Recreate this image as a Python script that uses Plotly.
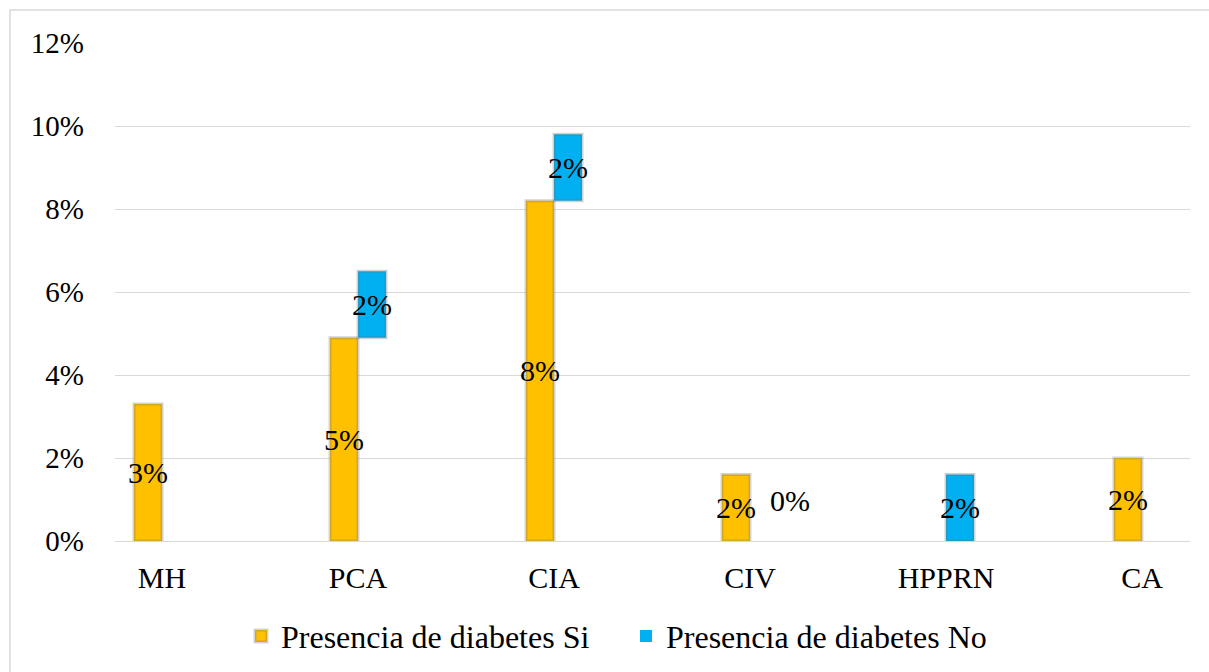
import plotly.graph_objects as go

categorias = ["MH", "PCA", "CIA", "CIV", "HPPRN", "CA"]
diabetes_si = [0.033, 0.049, 0.082, 0.016, 0.0, 0.020]
diabetes_no = [0.0, 0.016, 0.016, 0.0, 0.016, 0.0]
ticks_y = [0, 0.02, 0.04, 0.06, 0.08, 0.10, 0.12]

AMARILLO = "#FFC000"
AZUL = "#00B0F0"
SOMBRA = "rgba(110,110,110,0.30)"
FUENTE = "Liberation Serif, Times New Roman, serif"

W, H = 1209, 672
ML, MR, MT, MB = 115, 19, 43, 131

# the "No" segments float on top of the "Si" segments
base_no = list(diabetes_si)
texto_si = [f"{v:.0%}" if v > 0 else "" for v in diabetes_si]
texto_no = [f"{v:.0%}" if v > 0 else "" for v in diabetes_no]
borde_si = [3 if v > 0 else 0 for v in diabetes_si]
borde_no = [3 if v > 0 else 0 for v in diabetes_no]

fig = go.Figure()
fig.add_trace(go.Bar(
    name="Presencia de diabetes Si", x=categorias, y=diabetes_si,
    marker=dict(color=AMARILLO, line=dict(color=SOMBRA, width=borde_si)),
    text=texto_si, textposition="inside", insidetextanchor="middle",
    textfont=dict(family=FUENTE, size=30, color="black"),
    textangle=0, cliponaxis=False,
))
fig.add_trace(go.Bar(
    name="Presencia de diabetes No", x=categorias, y=diabetes_no, base=base_no,
    marker=dict(color=AZUL, line=dict(color=SOMBRA, width=borde_no)),
    text=texto_no, textposition="inside", insidetextanchor="middle",
    textfont=dict(family=FUENTE, size=30, color="black"),
    textangle=0, cliponaxis=False,
))

# zero-height "No" segment gets its label beside the neighbouring bar
for cat, si, no in zip(categorias, diabetes_si, diabetes_no):
    if no == 0 and si > 0 and cat == "CIV":
        fig.add_annotation(
            x=cat, y=si / 2 + 0.0017, text=f"{no:.0%}", showarrow=False,
            xshift=40, font=dict(family=FUENTE, size=30, color="black"),
        )

# light frame around the chart area
px2x = lambda p: (p - ML) / (W - ML - MR)
px2y = lambda p: (H - MB - p) / (H - MT - MB)
fig.add_shape(
    type="rect", xref="paper", yref="paper",
    x0=px2x(10), x1=px2x(1230), y0=px2y(690), y1=px2y(10),
    line=dict(color="#D9D9D9", width=1.5), fillcolor="rgba(0,0,0,0)", layer="below",
)

fig.update_layout(
    width=W, height=H,
    margin=dict(l=ML, r=MR, t=MT, b=MB, autoexpand=False),
    paper_bgcolor="white", plot_bgcolor="white",
    barmode="group", bargap=0.714, bargroupgap=0.0,
    uniformtext=dict(minsize=30, mode="show"),
    font=dict(family=FUENTE, size=30, color="black"),
    showlegend=True,
    legend=dict(
        orientation="h", x=px2x(241), xanchor="left", y=-0.191, yanchor="middle",
        font=dict(family=FUENTE, size=32, color="black"),
        itemwidth=30, tracegroupgap=0, entrywidth=340,
    ),
    xaxis=dict(
        type="category", range=[-0.24, 5.245],
        showgrid=False, showline=False, zeroline=False, ticks="",
        tickfont=dict(family=FUENTE, size=30), ticklabelstandoff=16,
    ),
    yaxis=dict(
        range=[0, 0.12], tickvals=ticks_y, tickformat=".0%",
        showgrid=True, gridcolor="#D9D9D9", gridwidth=1.3,
        zeroline=True, zerolinecolor="#D9D9D9", zerolinewidth=1.3,
        showline=False, ticks="", ticklabelstandoff=30,
        tickfont=dict(family=FUENTE, size=29),
    ),
)

fig.write_html("out.html")
